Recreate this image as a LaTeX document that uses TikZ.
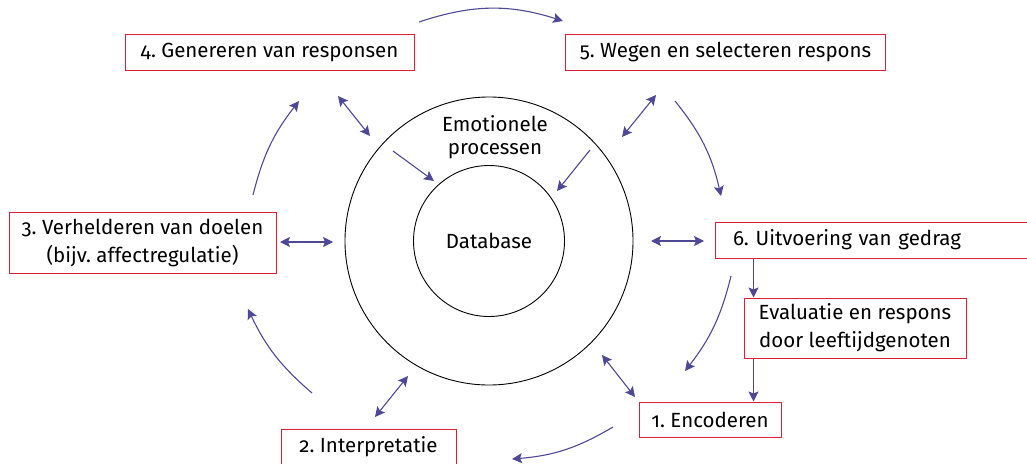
\documentclass[tikz,border=0pt]{standalone}
\usepackage{fontspec}
\setmainfont{Fira Sans}[Numbers=OldStyle]
\definecolor{stageRed}{RGB}{222, 30, 55}
\definecolor{flowBlue}{RGB}{78, 72, 150}
\usetikzlibrary{arrows.meta, positioning}
\frenchspacing

\begin{document}
\begin{tikzpicture}[
        x=1pt, y=-1pt,
        stage/.style={rectangle, draw=stageRed, line width=1pt,
                      minimum height=36pt, inner xsep=14pt, inner ysep=0pt,
                      font=\fontsize{20.5}{28}\selectfont, align=center},
        ring/.style={circle, draw, line width=0.9pt, inner sep=0pt,
                     font=\fontsize{20.5}{23}\selectfont, align=center},
        flow/.style={-{Stealth[length=10pt, width=10pt, inset=2pt]},
                     flowBlue, line width=1.1pt},
        link/.style={{Stealth[length=10pt, width=10pt, inset=2pt]}-{Stealth[length=10pt, width=10pt, inset=2pt]},
                     flowBlue, line width=1.1pt}
      ]
      \useasboundingbox (0,0) rectangle (1027,463);
      % centre
      \node[ring, minimum size=288pt] (emo) at (489,241) {};
      \node[ring, minimum size=151pt] (db) at (489,241) {Database};
      \node[font=\fontsize{20.5}{23}\selectfont, align=center] (emolbl) at (495,137)
            {Emotionele\\processen};
      % stages
      \node[stage, minimum width=289pt] (gen) at (269.5,52) {4. Genereren van responsen};
      \node[stage, minimum width=319pt] (sel) at (725.5,52) {5. Wegen en selecteren respons};
      \node[stage, inner xsep=12pt, minimum width=267pt, minimum height=61pt] (goals) at (142.5,242.5)
            {3. Verhelderen van doelen\\(bijv. affectregulatie)};
      \node[stage, inner xsep=18pt, text width=284pt, align=left] (exec) at (875,240)
            {6. Uitvoering van gedrag};
      \node[stage, minimum width=222pt, minimum height=60pt] (peer) at (855,328)
            {Evaluatie en respons\\door leeftijdgenoten};
      \node[stage, inner xsep=11pt, minimum width=142pt, minimum height=35pt] (enc) at (710,419.5)
            {1. Encoderen};
      \node[stage, minimum width=175pt] (interp) at (368.5,447) {2. Interpretatie};
      % free ends of the cycle arrows
      \coordinate (c4a) at (419,22);  \coordinate (c4b) at (563,21);
      \coordinate (c5a) at (675,101); \coordinate (c5b) at (721,196);
      \coordinate (c6a) at (731,276); \coordinate (c6b) at (685,371);
      \coordinate (c1a) at (613,427); \coordinate (c1b) at (512,459);
      \coordinate (c2a) at (312,393); \coordinate (c2b) at (248,309);
      \coordinate (c3a) at (253,195); \coordinate (c3b) at (299,101);
      \draw[flow] (c4a) to[bend left=18] (c4b);
      \draw[flow] (c5a) to[bend left=13] (c5b);
      \draw[flow] (c6a) to[bend left=12] (c6b);
      \draw[flow] (c1a) to[bend left=13] (c1b);
      \draw[flow] (c2a) to[bend left=12] (c2b);
      \draw[flow] (c3a) to[bend left=12] (c3b);
      % links to the emotional processes
      \coordinate (l4a) at (338,96);  \coordinate (l4b) at (370,136);
      \coordinate (l5a) at (656,95);  \coordinate (l5b) at (622,137);
      \coordinate (l3a) at (280,242); \coordinate (l3b) at (333,242);
      \coordinate (l6a) at (651,241); \coordinate (l6b) at (704,241);
      \coordinate (l2a) at (375,417); \coordinate (l2b) at (408,376);
      \coordinate (l1a) at (602,355); \coordinate (l1b) at (635,397);
      \draw[link] (l4a) -- (l4b);
      \draw[link] (l5a) -- (l5b);
      \draw[link] (l3a) -- (l3b);
      \draw[link] (l6a) -- (l6b);
      \draw[link] (l2a) -- (l2b);
      \draw[link] (l1a) -- (l1b);
      \coordinate (e1) at (393,151); \coordinate (e2) at (590,150);
      \draw[flow] (e1) -- (434,181);
      \draw[flow] (e2) -- (557,191);
      % peer feedback
      \draw[flow] ([xshift=10pt]peer.north west |- exec.south) -- ([xshift=10pt]peer.north west);
      \draw[flow] ([xshift=10pt]peer.south west) -- ([xshift=10pt]peer.south west |- enc.north);
    \end{tikzpicture}
\end{document}
